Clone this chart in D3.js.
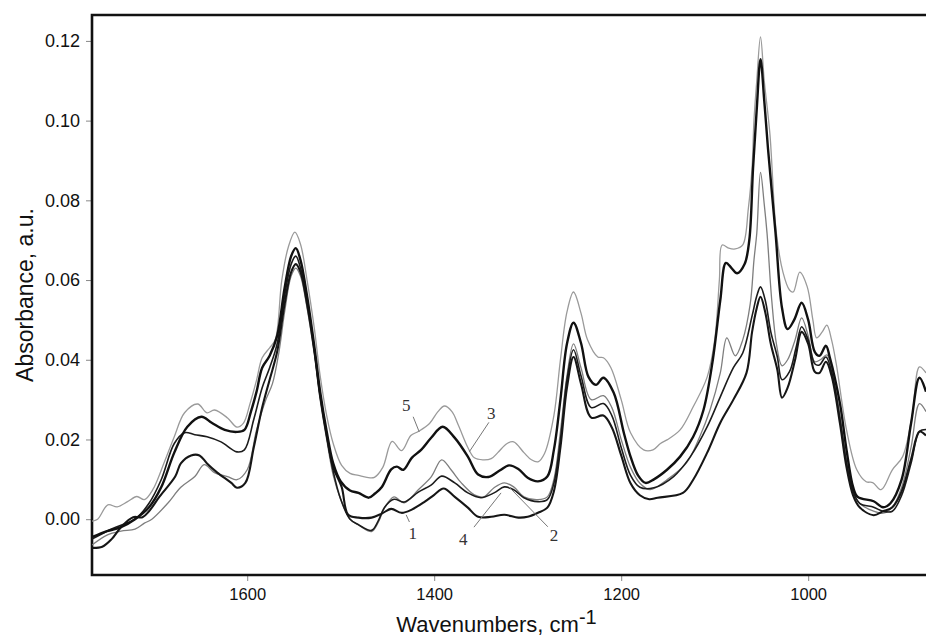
<!DOCTYPE html>
<html>
<head>
<meta charset="utf-8">
<script src="https://cdn.jsdelivr.net/npm/d3@7/dist/d3.min.js"></script>
<style>
  body { margin: 0; background: #fff; }
  svg { display: block; font-family: Arial, "Liberation Sans", sans-serif; }
</style>
</head>
<body>
<div id="chart"></div>
<script>
// spectra: wavenumber (cm-1) and absorbance for each sample

var curve1Wn = [1766, 1755, 1745, 1735, 1722, 1712, 1705, 1694, 1677, 1671, 1660, 1651, 1643, 1632, 1617, 1611, 1602, 1593, 1584, 1576, 1568, 1560, 1553, 1548, 1543, 1536, 1528, 1522, 1515, 1508, 1499, 1492, 1481, 1467, 1456, 1446, 1435, 1424, 1410, 1400, 1390, 1378, 1364, 1353, 1339, 1325, 1310, 1300, 1289, 1279, 1272, 1265, 1258, 1251, 1243, 1232, 1219, 1210, 1200, 1190, 1180, 1170, 1161, 1134, 1123, 1108, 1094, 1080, 1066, 1060, 1055, 1051, 1046, 1040, 1033, 1028, 1022, 1014, 1007, 1000, 993, 988, 981, 975, 966, 959, 952, 945, 930, 920, 910, 900, 890, 881, 874];
var curve1Abs = [-0.0072, -0.0069, -0.005, -0.002, 0.0005, 0.0005, 0.002, 0.0056, 0.0107, 0.014, 0.016, 0.016, 0.014, 0.0117, 0.0091, 0.0079, 0.0091, 0.018, 0.028, 0.035, 0.042, 0.054, 0.062, 0.064, 0.062, 0.054, 0.042, 0.031, 0.021, 0.013, 0.0081, 0.0011, 0.0004, 0.0004, 0.0014, 0.0026, 0.0016, 0.0024, 0.0044, 0.0061, 0.0077, 0.0056, 0.0029, 0.0006, 0.0006, 0.0011, 0.0004, 0.0006, 0.0016, 0.0029, 0.007, 0.018, 0.033, 0.0407, 0.034, 0.0255, 0.026, 0.023, 0.016, 0.009, 0.006, 0.005, 0.0054, 0.0066, 0.0099, 0.0167, 0.0242, 0.030, 0.0367, 0.047, 0.053, 0.0558, 0.052, 0.044, 0.0375, 0.0305, 0.033, 0.040, 0.047, 0.044, 0.037, 0.0367, 0.0395, 0.036, 0.024, 0.013, 0.006, 0.003, 0.001, 0.002, 0.003, 0.007, 0.015, 0.022, 0.021];

var curve2Wn = [1766, 1750, 1735, 1720, 1710, 1702, 1685, 1671, 1656, 1646, 1635, 1621, 1611, 1600, 1590, 1580, 1573, 1566, 1560, 1553, 1548, 1543, 1536, 1528, 1522, 1515, 1508, 1500, 1490, 1481, 1467, 1460, 1453, 1443, 1432, 1417, 1403, 1392, 1382, 1371, 1357, 1347, 1336, 1325, 1315, 1304, 1289, 1279, 1272, 1265, 1258, 1251, 1243, 1232, 1219, 1210, 1200, 1190, 1180, 1169, 1151, 1130, 1116, 1105, 1094, 1087, 1078, 1070, 1062, 1058, 1055, 1051, 1047, 1044, 1039, 1034, 1028, 1022, 1014, 1007, 1000, 993, 987, 980, 975, 966, 959, 952, 945, 930, 920, 910, 900, 890, 881, 874];
var curve2Abs = [-0.0065, -0.004, -0.003, -0.0025, -0.001, 0.000, 0.004, 0.008, 0.0107, 0.0137, 0.0117, 0.0107, 0.0099, 0.0124, 0.0224, 0.030, 0.034, 0.042, 0.052, 0.061, 0.063, 0.061, 0.053, 0.041, 0.030, 0.020, 0.011, 0.005, 0.000, -0.0014, -0.0031, -0.0009, 0.0029, 0.0056, 0.0041, 0.0074, 0.0107, 0.0149, 0.0124, 0.0091, 0.0061, 0.0056, 0.0079, 0.0091, 0.0081, 0.0056, 0.0049, 0.0056, 0.010, 0.022, 0.036, 0.044, 0.038, 0.030, 0.031, 0.028, 0.020, 0.013, 0.009, 0.0074, 0.0099, 0.0142, 0.0207, 0.0274, 0.0367, 0.0455, 0.041, 0.045, 0.054, 0.065, 0.0717, 0.087, 0.079, 0.0717, 0.055, 0.044, 0.0385, 0.040, 0.045, 0.0505, 0.046, 0.0395, 0.040, 0.0412, 0.038, 0.026, 0.015, 0.007, 0.004, 0.002, 0.0015, 0.003, 0.008, 0.018, 0.029, 0.027];

var curve3Wn = [1766, 1750, 1735, 1720, 1705, 1692, 1678, 1664, 1649, 1638, 1624, 1611, 1603, 1596, 1590, 1584, 1576, 1568, 1560, 1553, 1548, 1543, 1536, 1528, 1522, 1515, 1508, 1500, 1490, 1481, 1470, 1463, 1456, 1446, 1440, 1433, 1424, 1414, 1403, 1391, 1378, 1364, 1353, 1342, 1330, 1320, 1310, 1300, 1289, 1279, 1272, 1265, 1258, 1251, 1243, 1235, 1227, 1219, 1208, 1197, 1190, 1182, 1174, 1165, 1151, 1137, 1123, 1112, 1102, 1094, 1088, 1082, 1076, 1068, 1063, 1059, 1055, 1051, 1047, 1043, 1035, 1028, 1022, 1015, 1007, 1000, 993, 988, 981, 977, 966, 959, 952, 947, 930, 920, 912, 900, 890, 881, 874];
var curve3Abs = [-0.0045, -0.003, -0.002, 0.000, 0.003, 0.008, 0.0167, 0.0232, 0.0257, 0.0242, 0.0224, 0.0219, 0.0224, 0.027, 0.032, 0.038, 0.041, 0.046, 0.058, 0.066, 0.068, 0.065, 0.056, 0.043, 0.032, 0.022, 0.014, 0.0095, 0.0072, 0.0066, 0.0054, 0.0065, 0.0081, 0.0125, 0.0132, 0.0124, 0.0154, 0.0174, 0.0205, 0.0232, 0.0204, 0.0157, 0.0112, 0.0106, 0.0122, 0.0135, 0.0126, 0.0104, 0.0095, 0.0107, 0.0174, 0.030, 0.044, 0.0493, 0.0442, 0.0357, 0.0337, 0.0355, 0.0317, 0.0215, 0.0157, 0.011, 0.0091, 0.010, 0.0124, 0.0157, 0.0207, 0.0274, 0.040, 0.055, 0.0643, 0.063, 0.0617, 0.064, 0.070, 0.088, 0.103, 0.1154, 0.105, 0.093, 0.072, 0.053, 0.0477, 0.050, 0.0543, 0.050, 0.042, 0.041, 0.0435, 0.0407, 0.029, 0.0174, 0.0081, 0.0056, 0.0045, 0.003, 0.004, 0.010, 0.024, 0.0355, 0.032];

var curve4Wn = [1766, 1750, 1735, 1720, 1705, 1692, 1678, 1667, 1656, 1643, 1628, 1611, 1603, 1593, 1584, 1576, 1568, 1560, 1553, 1548, 1543, 1536, 1528, 1522, 1515, 1508, 1500, 1490, 1481, 1467, 1460, 1453, 1443, 1432, 1417, 1403, 1392, 1378, 1364, 1350, 1336, 1325, 1315, 1304, 1289, 1279, 1272, 1265, 1258, 1251, 1243, 1232, 1219, 1210, 1200, 1190, 1180, 1165, 1144, 1126, 1108, 1094, 1080, 1070, 1060, 1055, 1051, 1046, 1040, 1033, 1028, 1020, 1013, 1007, 1000, 993, 988, 981, 975, 966, 959, 952, 945, 930, 920, 910, 900, 890, 881, 874];
var curve4Abs = [-0.005, -0.003, -0.0015, 0.000, 0.004, 0.0099, 0.019, 0.0217, 0.0212, 0.0207, 0.0194, 0.0169, 0.0174, 0.025, 0.033, 0.038, 0.044, 0.056, 0.064, 0.066, 0.063, 0.055, 0.042, 0.031, 0.021, 0.012, 0.005, 0.000, -0.0014, -0.0028, -0.0005, 0.003, 0.005, 0.0043, 0.0068, 0.0086, 0.0108, 0.0091, 0.0066, 0.0054, 0.0066, 0.0081, 0.0074, 0.0054, 0.0044, 0.0049, 0.009, 0.020, 0.035, 0.0425, 0.036, 0.028, 0.029, 0.026, 0.018, 0.011, 0.008, 0.0079, 0.0107, 0.0157, 0.0232, 0.0307, 0.038, 0.0417, 0.051, 0.056, 0.0583, 0.055, 0.047, 0.0407, 0.035, 0.037, 0.043, 0.0483, 0.045, 0.039, 0.0387, 0.0407, 0.037, 0.025, 0.014, 0.007, 0.004, 0.003, 0.002, 0.002, 0.006, 0.014, 0.022, 0.0225];

var curve5Wn = [1766, 1760, 1749, 1739, 1728, 1718, 1710, 1701, 1689, 1678, 1667, 1653, 1643, 1635, 1621, 1611, 1604, 1597, 1590, 1584, 1576, 1570, 1563, 1556, 1549, 1543, 1536, 1528, 1522, 1515, 1508, 1499, 1490, 1481, 1472, 1464, 1455, 1445, 1435, 1425, 1417, 1405, 1396, 1389, 1381, 1374, 1364, 1357, 1348, 1339, 1332, 1322, 1315, 1304, 1296, 1289, 1282, 1272, 1265, 1258, 1251, 1243, 1236, 1225, 1219, 1211, 1200, 1190, 1176, 1166, 1158, 1151, 1137, 1123, 1108, 1100, 1095, 1092, 1085, 1078, 1070, 1064, 1060, 1058, 1055, 1051, 1047, 1041, 1034, 1027, 1020, 1016, 1009, 1001, 995, 991, 985, 980, 975, 970, 959, 948, 938, 931, 922, 910, 899, 889, 881, 874];
var curve5Abs = [-0.0005, 0.000, 0.0036, 0.0031, 0.0044, 0.0057, 0.0049, 0.0074, 0.0141, 0.0207, 0.0267, 0.0289, 0.0267, 0.0274, 0.0254, 0.0231, 0.0241, 0.029, 0.0349, 0.0405, 0.043, 0.045, 0.060, 0.0683, 0.072, 0.069, 0.060, 0.0475, 0.036, 0.026, 0.019, 0.0135, 0.0115, 0.011, 0.0105, 0.0105, 0.013, 0.0195, 0.0172, 0.021, 0.022, 0.024, 0.027, 0.0284, 0.027, 0.0235, 0.018, 0.0154, 0.0149, 0.0152, 0.0167, 0.019, 0.0194, 0.0167, 0.0149, 0.0144, 0.0165, 0.026, 0.040, 0.052, 0.057, 0.0517, 0.045, 0.0407, 0.0405, 0.038, 0.030, 0.0217, 0.0174, 0.0174, 0.019, 0.0199, 0.0224, 0.0282, 0.0357, 0.045, 0.060, 0.0688, 0.068, 0.0678, 0.0688, 0.078, 0.0884, 0.100, 0.110, 0.121, 0.110, 0.0968, 0.0717, 0.062, 0.0575, 0.057, 0.062, 0.0583, 0.050, 0.0455, 0.047, 0.0487, 0.045, 0.039, 0.0224, 0.0124, 0.0094, 0.0092, 0.0074, 0.0124, 0.0157, 0.0257, 0.0382, 0.0367];

var yTicks = [0.00, 0.02, 0.04, 0.06, 0.08, 0.10, 0.12];
var xTicks = [1600, 1400, 1200, 1000];

// sample labels: text position and leader line, in data units
var labelText = ["1", "2", "3", "4", "5"];
var labelAt = [[1423, -0.0034], [1272, -0.0039], [1339, 0.0267], [1369, -0.0051], [1430, 0.0287]];
var leaderFrom = [[1426.5, -0.0007], [1278.5, -0.0019], [1341.5, 0.0243], [1357.5, -0.0020], [1422.5, 0.0257]];
var leaderTo = [[1430, 0.0011], [1320, 0.0081], [1362.5, 0.0169], [1328.5, 0.0066], [1416, 0.0219]];


// set the dimensions and margins of the graph
var margin = { top: 15, right: 0, bottom: 62, left: 92 },
    width = 926 - margin.left - margin.right,
    height = 637 - margin.top - margin.bottom;

var svg = d3.select("#chart")
    .append("svg")
    .attr("width", width + margin.left + margin.right)
    .attr("height", height + margin.top + margin.bottom)
    .append("g")
    .attr("transform", "translate(" + margin.left + "," + margin.top + ")");

// wavenumbers run right to left
var x = d3.scaleLinear()
    .domain([1766, 874])
    .range([0, width]);

var y = d3.scaleLinear()
    .domain([-0.014, 0.1265])
    .range([height, 0]);

svg.append("clipPath")
    .attr("id", "plot-clip")
    .append("rect")
    .attr("x", 0)
    .attr("y", 0)
    .attr("width", width)
    .attr("height", height);

// axes
var yAxis = svg.append("g")
    .call(d3.axisLeft(y).tickValues(yTicks).tickFormat(d3.format(".2f")).tickSize(6).tickPadding(6));
var xAxis = svg.append("g")
    .attr("transform", "translate(0," + height + ")")
    .call(d3.axisBottom(x).tickValues(xTicks).tickFormat(d3.format("d")).tickSize(6).tickPadding(7));

[yAxis, xAxis].forEach(function(ax) {
    ax.select(".domain").remove();
    ax.selectAll(".tick line").attr("stroke", "#888").attr("stroke-width", 1);
    ax.selectAll(".tick text")
        .attr("font-family", "Arial, 'Liberation Sans', sans-serif")
        .attr("fill", "#111");
});
yAxis.selectAll(".tick text").attr("font-size", "18px");
xAxis.selectAll(".tick text").attr("font-size", "16.5px");

// frame: left, bottom and top, the right side runs off the picture
svg.append("path")
    .attr("d", "M" + (width + 5) + "," + y.range()[1] +
        "H" + x.range()[0] + "V" + y.range()[0] + "H" + (width + 5))
    .attr("fill", "none")
    .attr("stroke", "#111")
    .attr("stroke-width", 2.6);

var line = d3.line()
    .x(function(d) { return x(d[0]); })
    .y(function(d) { return y(d[1]); })
    .curve(d3.curveCatmullRom.alpha(0.5));

function pairs(wn, ab) {
    return wn.map(function(w, i) { return [w, ab[i]]; });
}

var series = [
    { wn: curve5Wn, ab: curve5Abs, color: "#9a9a9a", w: 1.3 },
    { wn: curve2Wn, ab: curve2Abs, color: "#7e7e7e", w: 1.3 },
    { wn: curve4Wn, ab: curve4Abs, color: "#1c1c1c", w: 1.6 },
    { wn: curve1Wn, ab: curve1Abs, color: "#161616", w: 2.1 },
    { wn: curve3Wn, ab: curve3Abs, color: "#111", w: 2.4 }
];

svg.append("g")
    .attr("clip-path", "url(#plot-clip)")
    .selectAll("path")
    .data(series)
    .enter()
    .append("path")
    .attr("d", function(s) { return line(pairs(s.wn, s.ab)); })
    .attr("fill", "none")
    .attr("stroke", function(s) { return s.color; })
    .attr("stroke-width", function(s) { return s.w; })
    .attr("stroke-linejoin", "round");

// sample numbers with leader lines
svg.append("g")
    .selectAll("line")
    .data(labelText)
    .enter()
    .append("line")
    .attr("x1", function(d, i) { return x(leaderFrom[i][0]); })
    .attr("y1", function(d, i) { return y(leaderFrom[i][1]); })
    .attr("x2", function(d, i) { return x(leaderTo[i][0]); })
    .attr("y2", function(d, i) { return y(leaderTo[i][1]); })
    .attr("stroke", "#777")
    .attr("stroke-width", 1);

svg.append("g")
    .selectAll("text")
    .data(labelText)
    .enter()
    .append("text")
    .text(function(d) { return d; })
    .attr("x", function(d, i) { return x(labelAt[i][0]); })
    .attr("y", function(d, i) { return y(labelAt[i][1]); })
    .attr("dy", "0.35em")
    .attr("text-anchor", "middle")
    .attr("font-family", "'Liberation Serif', 'Times New Roman', serif")
    .attr("font-size", "17px")
    .attr("fill", "#333");

// axis titles
var xTitle = svg.append("text")
    .attr("x", width * 0.485)
    .attr("y", height + 57)
    .attr("text-anchor", "middle")
    .attr("font-size", "22px")
    .attr("fill", "#111");
xTitle.append("tspan").text("Wavenumbers, cm");
xTitle.append("tspan").attr("dy", "-8").attr("font-size", "20px").text("-1");

svg.append("text")
    .attr("transform", "rotate(-90)")
    .attr("x", -(295 - margin.top))
    .attr("y", 33 - margin.left)
    .attr("text-anchor", "middle")
    .attr("font-size", "23px")
    .attr("fill", "#111")
    .text("Absorbance, a.u.");
</script>
</body>
</html>
